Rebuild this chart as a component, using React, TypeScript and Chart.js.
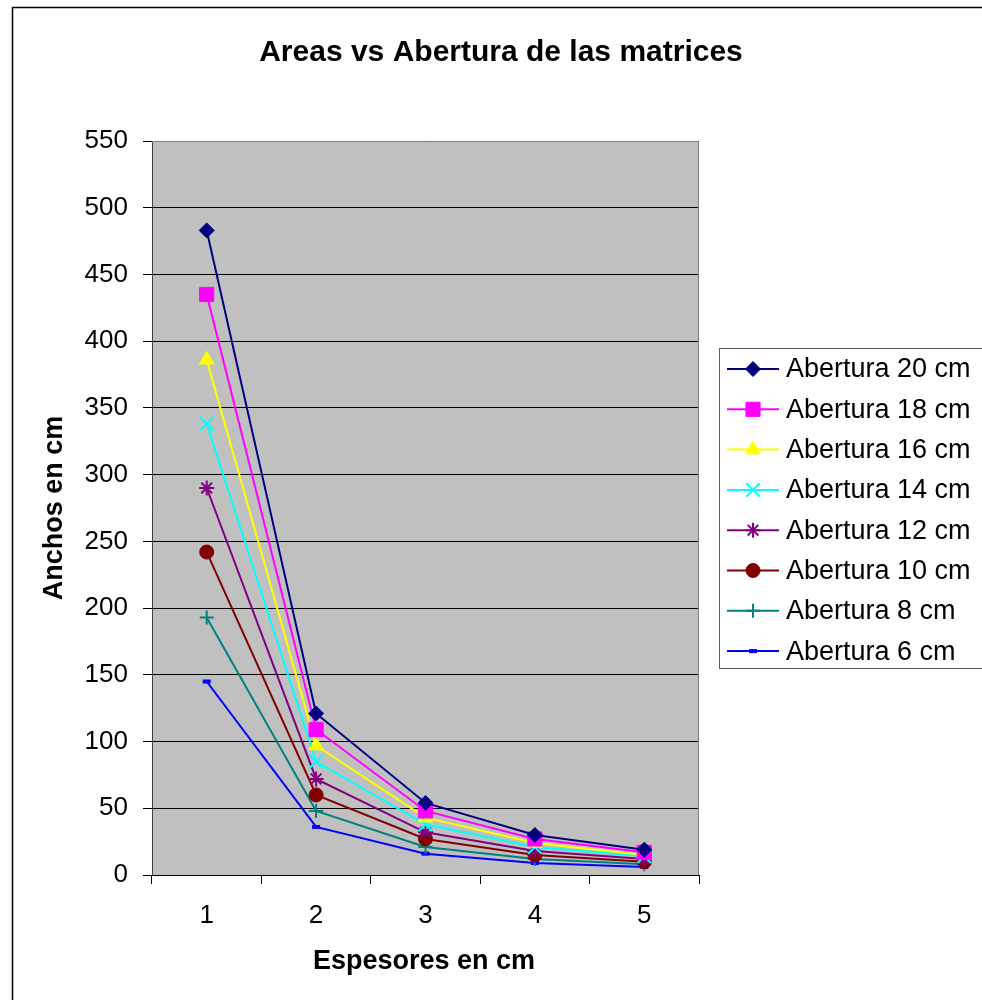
import React, { useEffect, useRef } from 'react';
import { Chart, registerables } from 'chart.js';
import { drawPoint } from 'chart.js/helpers';

Chart.register(...registerables);

// Espesores (eje X)
const espesores = ['1', '2', '3', '4', '5'];

// Anchos en cm por abertura
const abertura20 = [483, 121, 54, 30, 19];
const abertura18 = [435, 109, 48, 27, 17];
const abertura16 = [386, 97, 43, 24, 15];
const abertura14 = [338, 85, 38, 21, 14];
const abertura12 = [290, 72, 32, 18, 12];
const abertura10 = [242, 60, 27, 15, 10];
const abertura8 = [193, 48, 21, 12, 8];
const abertura6 = [145, 36, 16, 9, 6];

const seriesLabels = [
  'Abertura 20 cm',
  'Abertura 18 cm',
  'Abertura 16 cm',
  'Abertura 14 cm',
  'Abertura 12 cm',
  'Abertura 10 cm',
  'Abertura 8 cm',
  'Abertura 6 cm',
];

const FONT = '"Liberation Sans", Arial, sans-serif';

const styles = [
  { color: '#000080', pointStyle: 'rectRot', radius: 7.5, borderWidth: 1 },
  { color: '#FF00FF', pointStyle: 'rect', radius: 10, borderWidth: 1 },
  { color: '#FFFF00', pointStyle: 'triangle', radius: 8.5, borderWidth: 1 },
  { color: '#00FFFF', pointStyle: 'crossRot', radius: 9.5, borderWidth: 2 },
  { color: '#800080', pointStyle: 'star', radius: 7.5, borderWidth: 2 },
  { color: '#800000', pointStyle: 'circle', radius: 7, borderWidth: 1 },
  { color: '#008080', pointStyle: 'cross', radius: 7, borderWidth: 2 },
  { color: '#0000FF', pointStyle: 'line', radius: 4, borderWidth: 4 },
];

const seriesData = [
  abertura20,
  abertura18,
  abertura16,
  abertura14,
  abertura12,
  abertura10,
  abertura8,
  abertura6,
];

const framePlugin = {
  id: 'frame',
  beforeDraw(chart: Chart) {
    const { ctx, chartArea } = chart;
    ctx.save();
    ctx.fillStyle = '#FFFFFF';
    ctx.fillRect(0, 0, chart.width, chart.height);
    // outer border (runs off the right and bottom edges)
    ctx.strokeStyle = '#000000';
    ctx.lineWidth = 1.5;
    ctx.strokeRect(12.5, 7.5, 1100, 1100);
    // plot area background
    ctx.fillStyle = '#C0C0C0';
    ctx.fillRect(chartArea.left, chartArea.top, chartArea.right - chartArea.left, chartArea.bottom - chartArea.top);
    ctx.restore();
  },
  beforeDatasetsDraw(chart: Chart) {
    const { ctx, chartArea } = chart;
    ctx.save();
    ctx.strokeStyle = '#808080';
    ctx.lineWidth = 1;
    ctx.beginPath();
    ctx.moveTo(chartArea.left, chartArea.top + 0.5);
    ctx.lineTo(chartArea.right - 0.5, chartArea.top + 0.5);
    ctx.lineTo(chartArea.right - 0.5, chartArea.bottom);
    ctx.stroke();
    ctx.restore();
  },
  afterDraw(chart: Chart) {
    const { ctx } = chart;
    ctx.save();
    ctx.fillStyle = '#000000';
    ctx.textAlign = 'center';
    ctx.textBaseline = 'middle';

    // title
    ctx.font = `bold 30px ${FONT}`;
    ctx.fillText('Areas vs Abertura de las matrices', 501, 53);

    // axis titles
    ctx.font = `bold 27px ${FONT}`;
    ctx.fillText('Espesores en cm', 424, 962);
    ctx.save();
    ctx.translate(55, 508);
    ctx.rotate(-Math.PI / 2);
    ctx.fillText('Anchos en cm', 0, 0);
    ctx.restore();

    // legend
    ctx.strokeStyle = '#606060';
    ctx.lineWidth = 1;
    ctx.strokeRect(719.5, 348.5, 400, 320);
    ctx.textAlign = 'left';
    ctx.font = `27px ${FONT}`;
    seriesLabels.forEach((label, i) => {
      const st = styles[i];
      const y = 369 + i * 40.3;
      ctx.strokeStyle = st.color;
      ctx.fillStyle = st.color;
      ctx.lineWidth = 2;
      ctx.beginPath();
      ctx.moveTo(727, y);
      ctx.lineTo(779, y);
      ctx.stroke();
      ctx.lineWidth = st.borderWidth;
      drawPoint(ctx, { pointStyle: st.pointStyle as any, radius: st.radius, borderWidth: st.borderWidth, rotation: 0 }, 753, y);
      ctx.fillStyle = '#000000';
      ctx.fillText(label, 786, y + 1);
    });
    ctx.restore();
  },
};

const App: React.FC = () => {
  const chartRef = useRef<HTMLCanvasElement>(null);
  const chartInstance = useRef<Chart | null>(null);

  useEffect(() => {
    if (!chartRef.current) return;
    if (chartInstance.current) chartInstance.current.destroy();
    const ctx = chartRef.current.getContext('2d');
    if (!ctx) return;

    chartInstance.current = new Chart(ctx, {
      type: 'line',
      data: {
        labels: espesores,
        datasets: seriesLabels.map((label, i) => ({
          label,
          data: seriesData[i],
          borderColor: styles[i].color,
          backgroundColor: styles[i].color,
          borderWidth: 2,
          tension: 0,
          fill: false,
          pointStyle: styles[i].pointStyle as any,
          pointRadius: styles[i].radius,
          pointHoverRadius: styles[i].radius,
          pointBorderWidth: styles[i].borderWidth,
          pointBackgroundColor: styles[i].color,
          pointBorderColor: styles[i].color,
        })),
      },
      options: {
        responsive: true,
        maintainAspectRatio: false,
        animation: false,
        events: [],
        layout: { padding: { top: 141, right: 283, left: 0, bottom: 0 } },
        plugins: {
          legend: { display: false },
          title: { display: false },
          tooltip: { enabled: false },
        },
        scales: {
          x: {
            type: 'category',
            offset: true,
            grid: { offset: true, drawOnChartArea: false, drawTicks: true, tickLength: 9, color: '#000000' },
            border: { color: '#000000' },
            ticks: { color: '#000000', font: { family: FONT, size: 26 }, padding: 16, maxRotation: 0 },
            afterFit: (scale: any) => {
              scale.height = 125;
            },
          },
          y: {
            min: 0,
            max: 550,
            grid: { color: '#000000', tickLength: 9 },
            border: { color: '#404040' },
            ticks: { stepSize: 50, color: '#000000', font: { family: FONT, size: 26 }, padding: 15 },
            afterFit: (scale: any) => {
              scale.width = 152;
            },
          },
        },
      },
      plugins: [framePlugin],
    });

    return () => {
      if (chartInstance.current) {
        chartInstance.current.destroy();
        chartInstance.current = null;
      }
    };
  }, []);

  return (
    <div style={{ position: 'absolute', left: 0, top: 0, width: 982, height: 1000 }}>
      <canvas ref={chartRef} />
    </div>
  );
};

export default App;
